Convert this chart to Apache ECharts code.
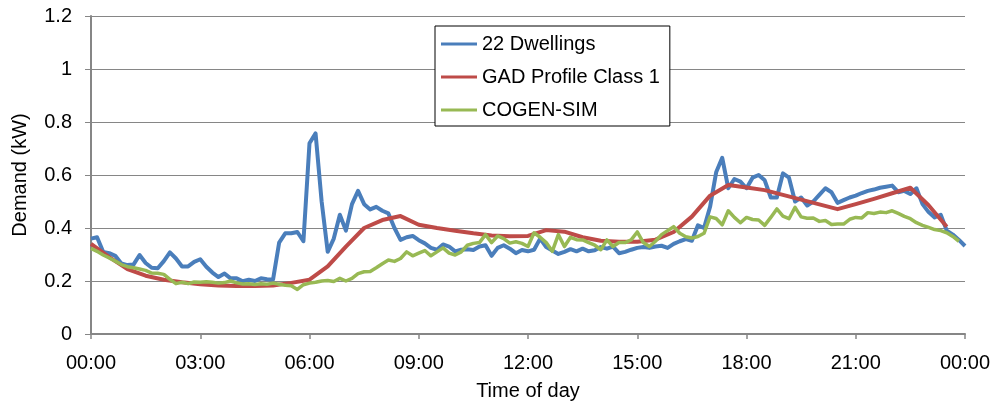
<!DOCTYPE html>
<html>
<head>
<meta charset="utf-8">
<script src="https://cdn.jsdelivr.net/npm/echarts@6/dist/echarts.min.js"></script>
<style>
  html, body { margin: 0; padding: 0; background: #ffffff; }
  #chart { width: 998px; height: 407px; }
</style>
</head>
<body>
<div id="chart"></div>
<script>
// Time-of-day tick labels, one every three hours (midnight to midnight)
const tickLabels = ['00:00', '03:00', '06:00', '09:00', '12:00', '15:00', '18:00', '21:00', '00:00'];

const seriesNames = ['22 Dwellings', 'GAD Profile Class 1', 'COGEN-SIM'];

// Measured mean demand of 22 dwellings, kW, every 10 minutes from 00:00 to 24:00
const dwellings = [
  0.36, 0.365, 0.31, 0.305, 0.295, 0.266,
  0.26, 0.262, 0.298, 0.268, 0.25, 0.248,
  0.275, 0.308, 0.285, 0.255, 0.255, 0.272,
  0.282, 0.254, 0.232, 0.215, 0.228, 0.21,
  0.21, 0.199, 0.205, 0.2, 0.21, 0.207,
  0.206, 0.345, 0.38, 0.38, 0.385, 0.35,
  0.72, 0.757, 0.5, 0.31, 0.36, 0.45,
  0.39, 0.49, 0.54, 0.49, 0.47, 0.48,
  0.465, 0.455, 0.4, 0.355, 0.365, 0.37,
  0.354, 0.342, 0.325, 0.318, 0.338, 0.33,
  0.312, 0.318, 0.32, 0.317, 0.33, 0.335,
  0.295, 0.325, 0.335, 0.322, 0.305, 0.317,
  0.312, 0.318, 0.36, 0.328, 0.315, 0.302,
  0.31, 0.32, 0.312, 0.322, 0.312, 0.316,
  0.328, 0.322, 0.33, 0.305, 0.31, 0.318,
  0.325, 0.328, 0.325, 0.33, 0.333, 0.325,
  0.34, 0.35, 0.358, 0.352, 0.41, 0.40,
  0.48, 0.61, 0.665, 0.55, 0.585, 0.575,
  0.55, 0.59, 0.60, 0.58, 0.515, 0.515,
  0.606, 0.59, 0.50, 0.515, 0.485, 0.50,
  0.525, 0.55, 0.535, 0.495, 0.505, 0.515,
  0.522, 0.532, 0.54, 0.545, 0.552, 0.556,
  0.56, 0.535, 0.54, 0.528, 0.55, 0.49,
  0.46, 0.44, 0.45, 0.39, 0.375, 0.355,
  0.332
];

// GAD Profile Class 1, kW, every 30 minutes from 00:00 to 23:30
const gadProfile = [
  0.34, 0.29, 0.245, 0.22, 0.205, 0.195,
  0.188, 0.183, 0.181, 0.181, 0.183, 0.193,
  0.205, 0.255, 0.33, 0.40, 0.43, 0.445,
  0.412, 0.40, 0.39, 0.38, 0.372, 0.369,
  0.370, 0.392, 0.386, 0.365, 0.352, 0.348,
  0.348, 0.356, 0.385, 0.443, 0.522, 0.562,
  0.553, 0.543, 0.525, 0.507, 0.489, 0.471,
  0.49, 0.51, 0.531, 0.552, 0.486, 0.405
];

// COGEN-SIM simulated demand, kW, every 10 minutes from 00:00 to 23:50
const cogenSim = [
  0.323, 0.312, 0.298, 0.287, 0.275, 0.262,
  0.254, 0.25, 0.245, 0.24, 0.23, 0.229,
  0.225, 0.206, 0.19, 0.195, 0.19, 0.196,
  0.195, 0.197, 0.195, 0.192, 0.194, 0.2,
  0.193, 0.189, 0.19, 0.187, 0.19, 0.188,
  0.192, 0.188, 0.184, 0.182, 0.168, 0.186,
  0.192, 0.195, 0.2, 0.202, 0.198, 0.21,
  0.2, 0.21, 0.228, 0.235, 0.236, 0.25,
  0.265, 0.279, 0.274, 0.285, 0.31, 0.295,
  0.305, 0.315, 0.295, 0.31, 0.325, 0.305,
  0.298, 0.31, 0.335, 0.342, 0.345, 0.375,
  0.345, 0.37, 0.36, 0.343, 0.348, 0.342,
  0.33, 0.382, 0.365, 0.345, 0.312, 0.375,
  0.33, 0.365, 0.356, 0.355, 0.345, 0.335,
  0.318, 0.355, 0.33, 0.345, 0.345, 0.355,
  0.385, 0.345, 0.33, 0.35, 0.375, 0.39,
  0.405, 0.38, 0.367, 0.362, 0.368, 0.38,
  0.442, 0.436, 0.412, 0.465, 0.44, 0.42,
  0.44, 0.432, 0.43, 0.41, 0.44, 0.472,
  0.445, 0.435, 0.478, 0.442, 0.437, 0.438,
  0.425, 0.428, 0.413, 0.415, 0.415, 0.433,
  0.44, 0.438, 0.458, 0.455, 0.46, 0.458,
  0.465, 0.455, 0.444, 0.435, 0.42, 0.41,
  0.402, 0.394, 0.39, 0.382, 0.368, 0.35
];

// Pair each reading with its time of day in minutes
const withMinutes = (values, stepMinutes) => values.map((v, i) => [i * stepMinutes, v]);

const FONT = 'Liberation Sans, Arial, sans-serif';
const GRID_GREY = '#868686';
const COLORS = ['#4A7EBB', '#BE4B48', '#98B954'];

const chart = echarts.init(document.getElementById('chart'), null, { renderer: 'canvas' });

chart.setOption({
  animation: false,
  backgroundColor: '#ffffff',
  textStyle: { fontFamily: FONT, color: '#000' },
  color: COLORS,
  grid: { left: 91, right: 33, top: 16, bottom: 73, containLabel: false },
  legend: {
    orient: 'vertical',
    left: 435,
    top: 26,
    padding: [7, 10, 5, 6],
    itemGap: 11,
    itemWidth: 36,
    itemHeight: 3,
    icon: 'rect',
    borderColor: '#000',
    borderWidth: 1,
    backgroundColor: '#fff',
    textStyle: { fontFamily: FONT, fontSize: 20, color: '#000', lineHeight: 22 },
    data: seriesNames
  },
  xAxis: {
    type: 'value',
    min: 0,
    max: 1440,
    interval: 180,
    name: 'Time of day',
    nameLocation: 'middle',
    nameGap: 47,
    nameTextStyle: { fontFamily: FONT, fontSize: 20, color: '#000' },
    axisLine: { show: true, lineStyle: { color: GRID_GREY, width: 2 } },
    axisTick: { show: true, length: 5, lineStyle: { color: GRID_GREY, width: 1.5 } },
    axisLabel: {
      fontFamily: FONT, fontSize: 20, color: '#000', margin: 19,
      formatter: (v) => tickLabels[Math.round(v / 180)]
    },
    splitLine: { show: false }
  },
  yAxis: {
    type: 'value',
    min: 0,
    max: 1.2,
    interval: 0.2,
    name: 'Demand (kW)',
    nameLocation: 'middle',
    nameGap: 61,
    nameRotate: 90,
    nameTextStyle: { fontFamily: FONT, fontSize: 20, color: '#000' },
    axisLine: { show: true, lineStyle: { color: GRID_GREY, width: 2 } },
    axisTick: { show: true, length: 6, lineStyle: { color: GRID_GREY, width: 1 } },
    axisLabel: {
      fontFamily: FONT, fontSize: 20, color: '#000', margin: 19,
      formatter: (v) => String(Math.round(v * 10) / 10)
    },
    splitLine: { show: true, lineStyle: { color: GRID_GREY, width: 1 } }
  },
  series: [
    {
      name: seriesNames[0],
      type: 'line',
      data: withMinutes(dwellings, 10),
      showSymbol: false,
      lineStyle: { width: 4, color: COLORS[0], join: 'round' }
    },
    {
      name: seriesNames[1],
      type: 'line',
      data: withMinutes(gadProfile, 30),
      showSymbol: false,
      lineStyle: { width: 4, color: COLORS[1], join: 'round' }
    },
    {
      name: seriesNames[2],
      type: 'line',
      data: withMinutes(cogenSim, 10),
      showSymbol: false,
      lineStyle: { width: 3.5, color: COLORS[2], join: 'round' }
    }
  ]
});
</script>
</body>
</html>
